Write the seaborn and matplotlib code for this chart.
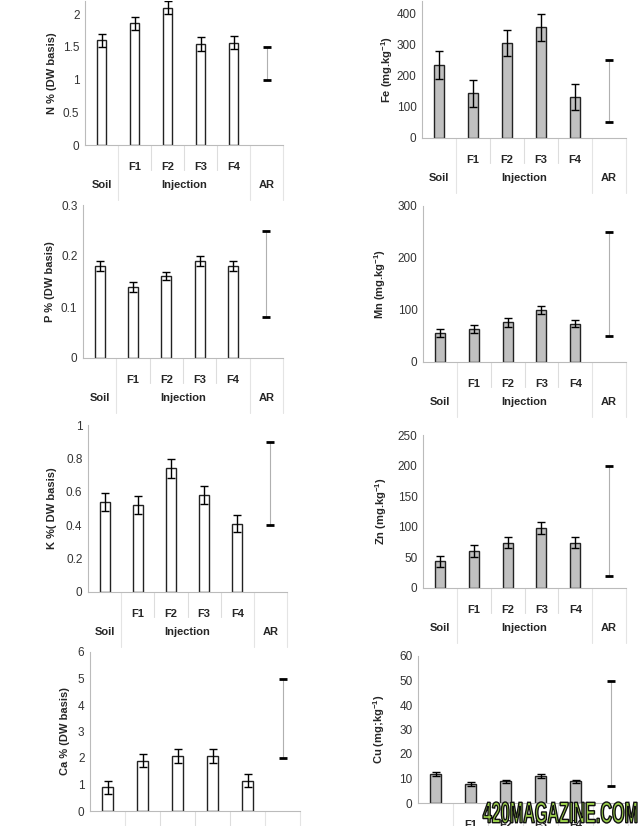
import matplotlib
matplotlib.use("Agg")
import matplotlib.pyplot as plt
from matplotlib.textpath import TextPath
from matplotlib.patches import PathPatch
from matplotlib.font_manager import FontProperties
from matplotlib.transforms import Affine2D, IdentityTransform
import seaborn as sns
import pandas as pd

sns.set_style("white")
plt.rcParams["font.family"] = ["Liberation Sans", "DejaVu Sans"]
plt.rcParams["mathtext.fontset"] = "custom"
plt.rcParams["mathtext.rm"] = "Liberation Sans"
plt.rcParams["mathtext.bf"] = "Liberation Sans:bold"

categories = ["Soil", "F1", "F2", "F3", "F4"]
tick_labels = ["", "F1", "F2", "F3", "F4"]

# values
n_vals = [1.60, 1.86, 2.10, 1.54, 1.56]
n_err = [0.10, 0.10, 0.10, 0.11, 0.10]
n_ar = [1.0, 1.5]

fe_vals = [235, 143, 305, 355, 132]
fe_err = [45, 44, 43, 43, 43]
fe_ar = [50, 250]

p_vals = [0.18, 0.14, 0.16, 0.19, 0.18]
p_err = [0.010, 0.010, 0.008, 0.010, 0.010]
p_ar = [0.08, 0.25]

mn_vals = [56, 64, 76, 100, 74]
mn_err = [8, 8, 8, 7, 7]
mn_ar = [50, 250]

k_vals = [0.54, 0.52, 0.74, 0.58, 0.41]
k_err = [0.055, 0.055, 0.055, 0.055, 0.05]
k_ar = [0.4, 0.9]

zn_vals = [44, 60, 74, 98, 74]
zn_err = [9, 10, 9, 10, 9]
zn_ar = [20, 200]

ca_vals = [0.90, 1.90, 2.08, 2.08, 1.15]
ca_err = [0.25, 0.25, 0.25, 0.25, 0.25]
ca_ar = [2, 5]

cu_vals = [11.7, 7.8, 8.8, 11.0, 8.8]
cu_err = [0.8, 0.8, 0.7, 0.8, 0.6]
cu_ar = [7, 50]

W, H = 640, 826
fig = plt.figure(figsize=(W / 100, H / 100), dpi=100)

# (left px, axis-zero px from top, width px, height px, ylim top, yticks, label, label offset px, values, err, ar, colour)
panels = [
    (85, 145, 198, 144, 2.2, [0, 0.5, 1, 1.5, 2], "N % (DW basis)", 28, n_vals, n_err, n_ar, "white"),
    (422, 138, 204, 137, 440, [0, 100, 200, 300, 400], r"Fe (mg.kg$^{\mathbf{-1}}$)", 27, fe_vals, fe_err, fe_ar, "#c0c0c0"),
    (83, 358, 200, 153, 0.3, [0, 0.1, 0.2, 0.3], "P % (DW basis)", 28, p_vals, p_err, p_ar, "white"),
    (423, 362, 203, 156, 300, [0, 100, 200, 300], r"Mn (mg.kg$^{\mathbf{-1}}$)", 35, mn_vals, mn_err, mn_ar, "#c0c0c0"),
    (88, 592, 199, 167, 1.0, [0, 0.2, 0.4, 0.6, 0.8, 1], "K %( DW basis)", 31, k_vals, k_err, k_ar, "white"),
    (423, 588, 203, 153, 250, [0, 50, 100, 150, 200, 250], r"Zn (mg.kg$^{\mathbf{-1}}$)", 34, zn_vals, zn_err, zn_ar, "#c0c0c0"),
    (90, 811, 210, 159, 6, [0, 1, 2, 3, 4, 5, 6], "Ca % (DW basis)", 20, ca_vals, ca_err, ca_ar, "white"),
    (418, 803, 210, 147, 60, [0, 10, 20, 30, 40, 50, 60], r"Cu (mg;kg$^{\mathbf{-1}}$)", 31, cu_vals, cu_err, cu_ar, "#c0c0c0"),
]

for left, zero, wpx, hpx, ytop, yticks, ylabel, loff, vals, err, ar, color in panels:
    ax = fig.add_axes([left / W, (H - zero) / H, wpx / W, hpx / H])
    df = pd.DataFrame({"cat": categories, "val": vals})
    sns.barplot(data=df, x="cat", y="val", order=categories, color=color,
                edgecolor="#222222", linewidth=1, width=0.3, ax=ax, errorbar=None)
    ax.errorbar(range(len(categories)), vals, yerr=err, fmt="none",
                ecolor="black", elinewidth=1, capsize=3, capthick=1)
    # AR range
    ax.plot([5, 5], ar, color="#b0b0b0", lw=0.8)
    ax.plot([5, 5], ar, ls="none", marker="_", ms=6, mew=2, color="black")

    ax.set_xlim(-0.5, 5.5)
    ax.set_ylim(0, ytop)
    ax.set_yticks(yticks)
    ax.set_yticklabels([f"{t:g}" for t in yticks])
    ax.set_xticks(range(5))
    ax.set_xticklabels(tick_labels, fontweight="bold", fontsize=8)
    ax.tick_params(axis="x", length=0, pad=12)
    ax.tick_params(axis="y", length=0, pad=4, labelsize=8.5, labelcolor="#333333")
    ax.set_xlabel("")
    ax.set_ylabel(ylabel, fontweight="bold", fontsize=8)
    ax.yaxis.set_label_coords(-loff / wpx, 0.5)
    for s in ["top", "right"]:
        ax.spines[s].set_visible(False)
    for s in ["left", "bottom"]:
        ax.spines[s].set_color("#bbbbbb")
        ax.spines[s].set_linewidth(0.8)

    # category separators of the two-level axis
    tr = ax.get_xaxis_transform()
    for b in [1.5, 2.5, 3.5]:
        ax.plot([b, b], [0, -25 / hpx], transform=tr, color="#dddddd", lw=0.8, clip_on=False)
    for b in [0.5, 4.5, 5.5]:
        ax.plot([b, b], [0, -55 / hpx], transform=tr, color="#e4e4e4", lw=0.8, clip_on=False)
    for xpos, txt in [(0, "Soil"), (2.5, "Injection"), (5, "AR")]:
        ax.text(xpos, -40 / hpx, txt, transform=tr, ha="center", va="center",
                fontweight="bold", fontsize=8)

# watermark, squeezed into a tall narrow block like the original
wm = TextPath((0, 0), "420MAGAZINE.COM", size=1,
              prop=FontProperties(family="Liberation Sans", weight="bold"))
ext = wm.get_extents()
sx = 154 / ext.width
sy = 21 / ext.height
wm_tr = Affine2D().translate(-ext.x0, -ext.y0).scale(sx, sy).translate(483, 3)
patch = PathPatch(wm, transform=wm_tr + IdentityTransform(), facecolor="#9bd04a",
                  edgecolor="#111111", lw=1.0)
fig.patches.append(patch)

fig.savefig("out.png", dpi=100)
